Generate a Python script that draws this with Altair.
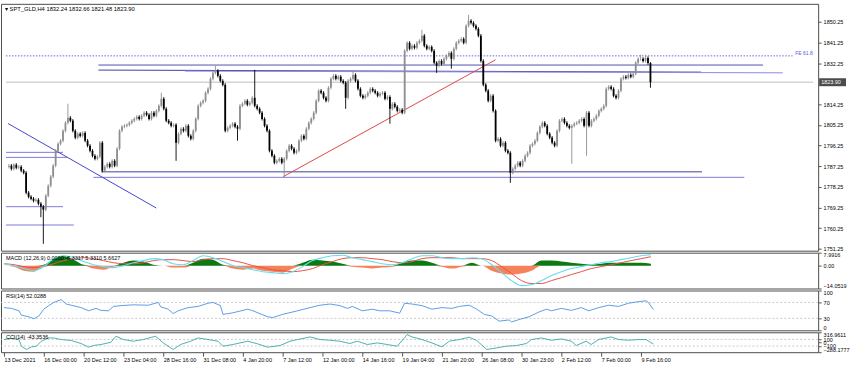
import altair as alt
import pandas as pd

# ---------------- price data (H4 candles) ----------------
close = [
    1787.5, 1786.1, 1787.9, 1786.6, 1787.0, 1785.3, 1784.4, 1775.7, 1773.9, 1773.1,
    1772.2, 1772.6, 1770.9, 1769.6, 1768.3, 1774.4, 1778.7, 1782.7, 1787.5, 1794.0,
    1797.0, 1798.4, 1802.7, 1806.2, 1808.4, 1807.1, 1802.7, 1799.7, 1801.4, 1800.5,
    1801.8, 1798.4, 1796.2, 1794.0, 1791.8, 1790.5, 1791.4, 1797.5, 1785.3, 1787.0,
    1788.3, 1787.0, 1789.6, 1787.5, 1794.9, 1802.7, 1804.5, 1804.9, 1805.3, 1806.2,
    1807.1, 1807.9, 1808.8, 1807.9, 1809.3, 1810.6, 1809.7, 1807.9, 1810.6, 1809.3,
    1811.4, 1813.6, 1816.7, 1812.3, 1807.1, 1806.2, 1804.9, 1805.3, 1797.5, 1801.4,
    1803.6, 1802.7, 1804.9, 1800.5, 1799.2, 1802.7, 1807.9, 1813.6, 1814.9, 1815.8,
    1819.3, 1821.0, 1825.4, 1828.0, 1828.9, 1826.7, 1824.5, 1822.8, 1802.7, 1804.0,
    1804.9, 1805.8, 1804.5, 1803.6, 1813.6, 1814.5, 1815.8, 1814.1, 1814.9, 1817.1,
    1813.6, 1812.3, 1810.6, 1807.9, 1804.9, 1802.7, 1794.0, 1791.8, 1788.8, 1789.6,
    1790.5, 1788.8, 1790.5, 1794.0, 1796.2, 1794.9, 1793.1, 1794.0, 1798.4, 1800.5,
    1799.2, 1803.6, 1806.2, 1807.9, 1810.6, 1815.8, 1820.2, 1819.3, 1817.1, 1815.8,
    1821.5, 1825.4, 1826.7, 1825.4, 1826.3, 1824.5, 1823.7, 1817.1, 1824.5, 1825.4,
    1827.1, 1824.5, 1821.0, 1818.0, 1817.1, 1818.0, 1819.3, 1821.0, 1820.2, 1819.3,
    1818.0, 1818.9, 1819.3, 1816.7, 1817.5, 1812.3, 1814.5, 1813.2, 1811.4, 1811.9,
    1810.6, 1837.6, 1841.1, 1838.5, 1839.8, 1838.9, 1841.1, 1842.0, 1844.2, 1839.8,
    1838.5, 1839.3, 1837.6, 1832.4, 1831.1, 1833.2, 1831.9, 1834.1, 1835.4, 1836.7,
    1834.1, 1838.5, 1841.1, 1842.0, 1842.8, 1841.1, 1848.5, 1850.7, 1849.8, 1848.5,
    1847.2, 1844.2, 1833.2, 1822.8, 1820.2, 1815.8, 1818.0, 1811.4, 1798.4, 1799.2,
    1796.2, 1797.5, 1794.0, 1793.1, 1784.4, 1786.1, 1787.5, 1788.8, 1787.5, 1789.6,
    1791.8, 1793.1, 1796.2, 1797.0, 1798.4, 1801.8, 1804.5, 1806.2, 1804.9, 1801.4,
    1799.7, 1797.5, 1796.2, 1802.7, 1807.1, 1807.9, 1806.2, 1804.9, 1804.0, 1804.9,
    1805.8, 1806.2, 1807.1, 1807.9, 1804.9, 1810.6, 1804.9, 1807.1, 1807.9, 1809.3,
    1811.4, 1812.3, 1813.6, 1821.0, 1821.9, 1821.0, 1818.0, 1817.1, 1820.2, 1825.4,
    1826.3, 1825.8, 1827.1, 1826.3, 1827.6, 1832.4, 1834.1, 1834.1, 1833.2, 1834.5,
    1832.24, 1823.90,
]
first_open = 1787.0
# visible long wicks (bar index -> price)
wick_high = {24: 1814.5, 62: 1819.3, 84: 1831.1, 100: 1829.3, 140: 1828.9,
             168: 1846.8, 187: 1853.3, 257: 1835.9, 259: 1835.9, 261: 1832.66}
wick_low = {13: 1765.0, 14: 1753.4, 68: 1789.6, 93: 1798.4, 112: 1782.7,
            137: 1812.3, 155: 1805.8, 174: 1828.0, 180: 1829.8, 204: 1780.0,
            229: 1788.3, 235: 1791.8, 261: 1821.48}
typical_wick = 0.7

time_labels = ['13 Dec 2021', '16 Dec 00:00', '20 Dec 12:00', '23 Dec 04:00',
               '28 Dec 16:00', '31 Dec 08:00', '4 Jan 20:00', '7 Jan 12:00',
               '12 Jan 00:00', '14 Jan 16:00', '19 Jan 04:00', '21 Jan 20:00',
               '26 Jan 08:00', '30 Jan 23:00', '2 Feb 12:00', '7 Feb 00:00',
               '9 Feb 16:00']
time_label_bars = [0, 16, 32, 48, 64, 80, 96, 112, 128, 144, 160, 176, 192,
                   208, 224, 240, 256]
price_ticks = [1751.25, 1760.25, 1769.25, 1778.25, 1787.25, 1796.25, 1805.25,
               1814.25, 1832.25, 1841.25, 1850.25]
last_price = 1823.90

# drawn objects: horizontal levels and trend lines (bar index / price)
seg_x0 = [36.4, 36.4, 71.6, 37.6, 34.4, -1.2, -1.2, -1.2, -1.2, -0.4, 111.6]
seg_x1 = [306.8, 281.6, 314.8, 282.0, 299.2, 22.0, 23.6, 22.0, 26.4, 60.0, 198.0]
seg_p0 = [1831.4, 1829.2, 1828.75, 1784.8, 1782.4, 1793.3, 1791.1, 1769.6, 1761.6, 1805.9, 1782.7]
seg_p1 = [1831.4, 1828.3, 1828.0, 1784.8, 1782.4, 1793.3, 1791.1, 1769.6, 1761.6, 1769.0, 1833.7]
seg_col = ['#5050b0', '#3f3f9f', '#8a8ae4', '#3f3f9f', '#7b7bd8', '#7b7bd8',
           '#7b7bd8', '#7b7bd8', '#7b7bd8', '#4646c8', '#e04848']
fe_price = 1835.4
fe_x0, fe_x1 = -1.2, 318.8

# ---------------- indicator data ----------------
macd_bars = [0, 4, 8, 12, 16, 20, 24, 28, 32, 36, 40, 44, 48, 52, 56, 60, 64, 68,
             72, 76, 80, 84, 88, 92, 96, 100, 104, 108, 112, 116, 120, 124, 128,
             132, 136, 140, 144, 148, 152, 156, 160, 164, 168, 172, 176, 180, 184,
             188, 192, 196, 200, 204, 208, 212, 216, 220, 224, 228, 232, 236, 240,
             244, 248, 252, 256, 260]
macd_main = [1.2, 0, -1.8, -3.1, -0.6, 4.3, 6.1, 4.9, 2.5, 0.6, -0.6, -1.2, 0, 1.8,
             3.1, 4.3, 3.7, 1.2, 0.6, 3.1, 6.1, 4.9, 2.5, 0, -1.2, -2.5, -3.7, -4.3,
             -4.9, -3.7, -0.6, 3.1, 4.9, 6.1, 6.4, 4.9, 3.7, 2.5, 1.2, 0.6, 1.8, 4.3,
             6.1, 6.1, 4.9, 4.3, 4.3, 4.9, 4.3, 0.6, -4.3, -9.2, -12.3, -11.7, -9.2,
             -6.1, -3.7, -1.8, -0.6, 0.6, 1.8, 2.5, 3.7, 4.9, 6.1, 6.7]
macd_signal = [1.2, 0.6, -0.6, -1.2, -0.6, 1.2, 3.1, 4.3, 4.9, 4.3, 3.1, 1.8, 1.2,
               1.2, 1.8, 3.1, 3.7, 3.7, 3.1, 2.5, 3.7, 4.3, 4.3, 3.1, 1.8, 0, -1.2,
               -2.5, -3.1, -3.7, -3.1, -1.8, 0.6, 2.5, 4.3, 4.9, 4.9, 4.3, 3.7, 2.5,
               1.8, 2.5, 4.3, 4.9, 4.9, 4.9, 4.3, 4.3, 4.3, 3.1, -0.6, -4.9, -9.2,
               -11.0, -11.0, -9.2, -7.4, -5.5, -3.7, -1.8, -0.6, 0.6, 1.8, 3.1, 4.3, 5.5]
macd_hist = [0, -0.6, -3.1, -3.7, 0.6, 4.3, 6.1, 3.7, 0.6, -1.8, -2.5, -0.6, 1.8,
             3.1, 2.5, 0.6, 0, -1.2, -1.2, 1.8, 4.3, 3.7, 0.6, -1.8, -2.5, -1.8,
             -3.1, -3.7, -4.3, -1.8, 1.8, 3.7, 3.1, 2.5, 1.2, -0.6, -1.2, -1.8,
             -1.2, -0.6, 1.8, 3.1, 3.1, 1.8, -0.6, -1.8, -0.6, 1.8, 0, -3.1, -4.9,
             -5.5, -4.9, -3.1, 3.1, 3.1, 2.5, 1.8, 1.2, 0.6, 1.2, 1.8, 1.8, 1.8, 1.8, 1.2]
macd_max, macd_min = 7.9916, -14.0519

rsi_bars = [0, 3, 6, 7, 10, 12, 14, 16, 18, 20, 23, 25, 27, 31, 34, 37, 39, 42, 44,
            47, 52, 58, 62, 63, 66, 68, 70, 74, 78, 82, 84, 87, 88, 92, 98, 100,
            106, 108, 112, 116, 118, 123, 127, 131, 135, 138, 140, 144, 148, 151,
            155, 159, 161, 164, 168, 172, 176, 180, 183, 187, 190, 193, 196, 199,
            203, 204, 207, 211, 215, 218, 220, 224, 228, 232, 235, 239, 243, 247,
            251, 255, 258, 259, 261]
rsi_vals = [57, 55, 49, 38, 34, 29, 36, 53, 62, 70, 77, 66, 63, 57, 49, 55, 50, 49,
            60, 62, 64, 63, 70, 59, 53, 42, 49, 57, 60, 68, 70, 62, 40, 44, 53, 49,
            34, 32, 40, 46, 49, 57, 63, 66, 62, 55, 60, 49, 53, 49, 49, 43, 68, 66,
            62, 53, 57, 55, 60, 63, 53, 40, 36, 23, 26, 21, 27, 34, 46, 53, 49, 55,
            50, 57, 49, 57, 63, 60, 68, 72, 74, 70, 52.03]

cci_bars = [0, 3, 6, 7, 9, 11, 13, 15, 18, 20, 23, 27, 31, 34, 36, 39, 43, 45, 48,
            52, 56, 61, 64, 68, 71, 75, 78, 82, 86, 88, 92, 98, 102, 106, 111, 115,
            118, 123, 127, 131, 135, 139, 142, 146, 150, 154, 158, 161, 162, 164,
            168, 172, 176, 179, 183, 187, 190, 194, 198, 202, 206, 210, 212, 216,
            220, 224, 228, 230, 234, 236, 239, 244, 247, 251, 255, 258, 261]
cci_vals = [97, 127, 97, -106, -206, -127, -106, 46, 145, 145, 97, 67, -24, -136,
            -85, -54, 15, 197, 97, 46, 97, 197, -6, -206, -54, 46, 145, 97, 46,
            -106, -54, 46, -36, -136, -85, 46, 97, 176, 97, 76, 46, -24, 46, -54,
            -6, -54, -106, 150, 248, 176, 97, -6, -127, 46, 97, 167, 67, -206, -157,
            -106, -85, -24, 97, 145, 76, 115, 46, -85, 46, -54, 97, 176, 97, 76, 97,
            97, -43.35]
cci_max, cci_min = 316.9611, -288.1777

# ---------------- frames ----------------
opens = [first_open] + close[:-1]
rows = []
for i, c in enumerate(close):
    o = opens[i]
    rows.append({
        "i": i, "open": o, "close": c,
        "high": wick_high.get(i, max(o, c) + typical_wick),
        "low": wick_low.get(i, min(o, c) - typical_wick),
        "col": "#8e8e8e" if c >= o else "#000000",
    })
bars = pd.DataFrame(rows)
segs = pd.DataFrame({"x0": seg_x0, "x1": seg_x1, "p0": seg_p0, "p1": seg_p1, "c": seg_col})
macd = pd.DataFrame({"i": macd_bars, "main": macd_main, "sig": macd_signal,
                     "pos": [max(v, 0) for v in macd_hist],
                     "neg": [min(v, 0) for v in macd_hist],
                     "zero": [0] * len(macd_bars)})
rsi = pd.DataFrame({"i": rsi_bars, "v": rsi_vals})
cci = pd.DataFrame({"i": cci_bars, "v": cci_vals})

W = 821
XDOM = [-1.2, 327.2]
FONT = "Liberation Sans"
FS = 5.5


def xq(field="i", axis=None):
    return alt.X(f"{field}:Q", scale=alt.Scale(domain=XDOM, nice=False, zero=False),
                 axis=axis, title=None)


main_axis = alt.Axis(orient="right", values=price_ticks, format=".2f", grid=False,
                     domain=False, tickSize=3, tickColor="#555555", labelFontSize=FS,
                     labelColor="#000000", labelPadding=2, labelFont=FONT, title=None,
                     labelOverlap=False)
main_scale = alt.Scale(domain=[1750.4, 1858.1], nice=False, zero=False)


def py(field):
    return alt.Y(f"{field}:Q", scale=main_scale, axis=main_axis, title=None)


last_df = pd.DataFrame({"p": [last_price], "x0": [XDOM[0]], "x1": [XDOM[1]],
                        "t": [f"{last_price:.2f}"]})

bid_line = alt.Chart(last_df).mark_rule(color="#d4d4d4", strokeWidth=1.5).encode(
    x=xq("x0"), x2="x1", y=py("p"))
seg_layer = alt.Chart(segs).mark_rule(strokeWidth=1).encode(
    x=xq("x0"), x2="x1", y=py("p0"), y2="p1", color=alt.Color("c:N", scale=None))
fe_df = pd.DataFrame({"x0": [fe_x0], "x1": [fe_x1], "p": [fe_price], "t": ["FE 61.8"],
                      "xt": [XDOM[1] - 0.2]})
fe_line = alt.Chart(fe_df).mark_rule(color="#6a6ad8", strokeWidth=1, strokeDash=[1.5, 1.5]).encode(
    x=xq("x0"), x2="x1", y=py("p"))
fe_text = alt.Chart(fe_df).mark_text(align="right", baseline="bottom", fontSize=5,
                                     font=FONT, color="#5a5ae0", dy=0).encode(
    x=xq("xt"), y=py("p"), text="t:N")
wicks = alt.Chart(bars).mark_rule(strokeWidth=0.9).encode(
    x=xq(), y=py("low"), y2="high", color=alt.Color("col:N", scale=None))
bodies = alt.Chart(bars).mark_bar(width=1.8).encode(
    x=xq(), y=py("open"), y2="close", color=alt.Color("col:N", scale=None))
title_df = pd.DataFrame({"t": ["\u25be SPT_GLD,H4  1832.24 1832.66 1821.48 1823.90"]})
title_txt = alt.Chart(title_df).mark_text(align="left", baseline="middle", fontSize=5.8,
                                          font=FONT, color="#000000").encode(
    x=alt.value(4), y=alt.value(5), text="t:N")
price_box = alt.Chart(last_df).mark_tick(orient="horizontal", color="#000000",
                                         size=27, thickness=8).encode(
    x=alt.value(835.5), y=py("p"))
price_txt = alt.Chart(last_df).mark_text(align="left", baseline="middle", fontSize=FS,
                                         font=FONT, color="#ffffff").encode(
    x=alt.value(824), y=py("p"), text="t:N")

main = alt.layer(bid_line, seg_layer, fe_line, wicks, bodies, fe_text, title_txt,
                 price_box, price_txt).properties(width=W, height=248)

# MACD panel
macd_scale = alt.Scale(domain=[macd_min, macd_max], nice=False, zero=False)
macd_axis = alt.Axis(orient="right", values=[macd_max, 0, macd_min], grid=False,
                     domain=False, tickSize=3, tickColor="#555555", labelFontSize=FS,
                     labelColor="#000000", labelFlush=True, labelOverlap=False,
                     labelPadding=2, labelFont=FONT,
                     labelExpr="datum.value == 0 ? '0.00' : format(datum.value, '.4f')",
                     title=None)


def my(field):
    return alt.Y(f"{field}:Q", scale=macd_scale, axis=macd_axis, title=None)


mbase = alt.Chart(macd)
macd_panel = alt.layer(
    mbase.mark_area(color="#0b7a12", interpolate="monotone").encode(x=xq(), y=my("pos"), y2="zero"),
    mbase.mark_area(color="#f5825a", interpolate="monotone").encode(x=xq(), y=my("neg"), y2="zero"),
    mbase.mark_line(color="#e6534a", strokeWidth=1, interpolate="monotone").encode(x=xq(), y=my("sig")),
    mbase.mark_line(color="#62def0", strokeWidth=1.1, interpolate="monotone").encode(x=xq(), y=my("main")),
    alt.Chart(pd.DataFrame({"t": ["MACD  (12,26,9) 0.0000 -8.3317 5.3310 5.6627"]})).mark_text(
        align="left", baseline="middle", fontSize=FS, font=FONT, color="#000000").encode(
        x=alt.value(5), y=alt.value(5.5), text="t:N"),
).properties(width=W, height=36)

# RSI panel
rsi_scale = alt.Scale(domain=[0, 100], nice=False, zero=False)
rsi_axis = alt.Axis(orient="right", values=[100, 70, 30, 0], grid=False, domain=False,
                    tickSize=3, tickColor="#555555", labelFontSize=FS, labelColor="#000000",
                    labelFlush=True, labelOverlap=False, labelPadding=2, labelFont=FONT,
                    title=None)
rsi_lv = pd.DataFrame({"v": [70, 30]})
rsi_panel = alt.layer(
    alt.Chart(rsi_lv).mark_rule(color="#bdbdbd", strokeDash=[2, 2], strokeWidth=0.8).encode(
        y=alt.Y("v:Q", scale=rsi_scale, axis=rsi_axis, title=None)),
    alt.Chart(rsi).mark_line(color="#4b93e6", strokeWidth=0.9).encode(
        x=xq(), y=alt.Y("v:Q", scale=rsi_scale, axis=rsi_axis, title=None)),
    alt.Chart(pd.DataFrame({"t": ["RSI(14) 52.0288"]})).mark_text(
        align="left", baseline="middle", fontSize=FS, font=FONT, color="#000000").encode(
        x=alt.value(5), y=alt.value(5.5), text="t:N"),
).properties(width=W, height=40)

# CCI panel (bottom, carries the time axis)
cci_scale = alt.Scale(domain=[cci_min, cci_max], nice=False, zero=False)
cci_axis = alt.Axis(orient="right", values=[cci_max, 100, 0, -100, cci_min], grid=False,
                    domain=False, tickSize=3, tickColor="#555555", labelFontSize=FS,
                    labelColor="#000000", labelFlush=True, labelOverlap=False,
                    labelPadding=2, labelFont=FONT, title=None,
                    labelExpr="abs(datum.value) > 200 ? format(datum.value, '.4f') : format(datum.value, 'd')")
label_js = "[" + ",".join("'" + s + "'" for s in time_labels) + "]"
time_axis = alt.Axis(values=time_label_bars, grid=False, domain=False, tickSize=4,
                     tickColor="#555555", labelFontSize=FS, labelColor="#000000",
                     labelAlign="left", labelPadding=1, labelFont=FONT,
                     labelFlush=False, labelOverlap=False, title=None,
                     labelExpr=label_js + "[round(datum.value / 16)]")
cci_lv = pd.DataFrame({"v": [100, -100], "i": [0, 0]})
cci_panel = alt.layer(
    alt.Chart(cci_lv).mark_rule(color="#bdbdbd", strokeDash=[2, 2], strokeWidth=0.8).encode(
        y=alt.Y("v:Q", scale=cci_scale, axis=cci_axis, title=None)),
    alt.Chart(cci).mark_line(color="#3aa9a9", strokeWidth=0.9).encode(
        x=xq(axis=time_axis), y=alt.Y("v:Q", scale=cci_scale, axis=cci_axis, title=None)),
    alt.Chart(pd.DataFrame({"t": ["CCI(14) -43.3536"]})).mark_text(
        align="left", baseline="middle", fontSize=FS, font=FONT, color="#000000").encode(
        x=alt.value(5), y=alt.value(5), text="t:N"),
).properties(width=W, height=20)

chart = alt.vconcat(main, macd_panel, rsi_panel, cci_panel, spacing=2,
                    bounds="flush").resolve_scale(
    x="independent", y="independent"
).properties(
    padding={"left": 0, "top": 2, "right": 0, "bottom": 0},
    background="#ffffff",
).configure_view(stroke="#4d4d4d", strokeWidth=1).configure_text(font=FONT)

chart.save("out.html", embed_options={"renderer": "svg", "actions": False})
